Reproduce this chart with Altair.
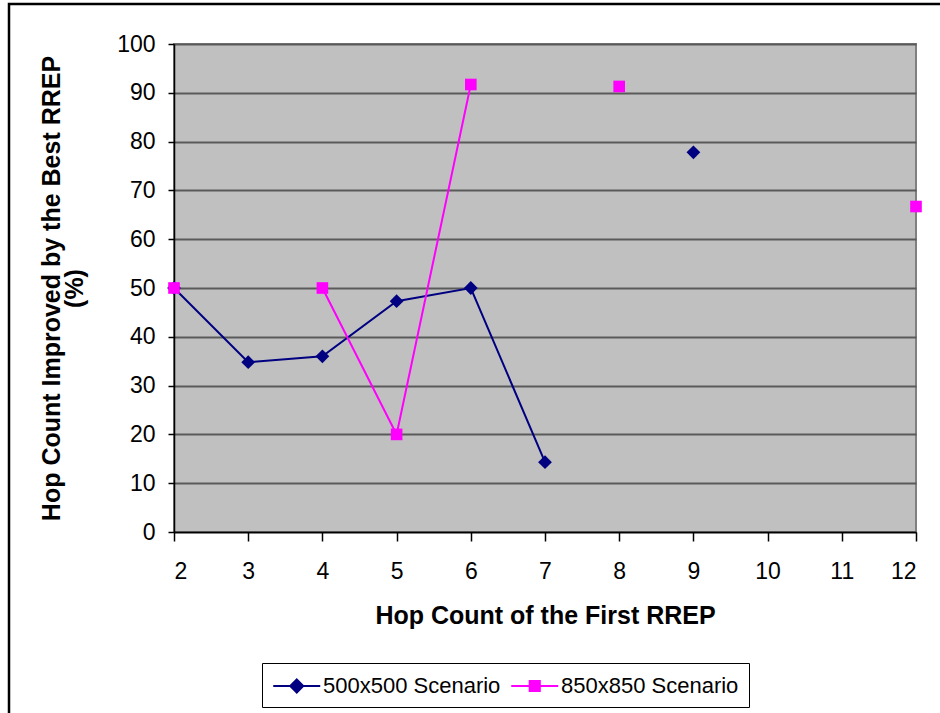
import altair as alt
import pandas as pd

# Hop count of the first RREP (category axis)
hops = [2, 3, 4, 5, 6, 7, 8, 9, 10, 11, 12]

# Percentage of hop count improved by the best RREP (None = no data)
scenario_500 = [50.0, 34.8, 36.0, 47.3, 50.0, 14.3, None, 77.8, None, None, None]
scenario_850 = [50.0, None, 50.0, 20.0, 91.7, None, 91.3, None, None, None, 66.7]

series_names = ["500x500 Scenario", "850x850 Scenario"]
series_colors = ["#000080", "#FF00FF"]
series_shapes = ["diamond", "square"]
series_sizes = [190, 135]

# Legend symbols: a line with the series marker in the middle
legend_paths = [
    "M-1,0L3,0M1,-0.55L1.55,0L1,0.55L0.45,0Z",
    "M-1,0L3,0M0.57,-0.43L1.43,-0.43L1.43,0.43L0.57,0.43Z",
]

rows = []
for name, values in zip(series_names, [scenario_500, scenario_850]):
    seg = 0
    prev_valid = False
    for h, v in zip(hops, values):
        if v is None:
            prev_valid = False
            continue
        if not prev_valid:
            seg += 1
        prev_valid = True
        rows.append({"hop": h, "pct": v, "series": name, "seg": f"{name}-{seg}"})
df = pd.DataFrame(rows)

FONT = "Liberation Sans"

x_enc = alt.X(
    "hop:Q",
    scale=alt.Scale(domain=[2, 12], nice=False, zero=False),
    axis=alt.Axis(
        values=hops,
        title="Hop Count of the First RREP",
        titleFontSize=25,
        titleFontWeight="bold",
        titleBaseline="alphabetic",
        titleY=91,
        labelFontSize=23,
        labelBaseline="alphabetic",
        labelPadding=37,
        tickSize=9,
        grid=False,
        format="d",
    ),
)
y_enc = alt.Y(
    "pct:Q",
    scale=alt.Scale(domain=[0, 100], nice=False),
    axis=alt.Axis(
        values=list(range(0, 101, 10)),
        title=["Hop Count Improved by the Best RREP", "(%)"],
        titleFontSize=25,
        titleFontWeight="bold",
        titleBaseline="alphabetic",
        titleAngle=270,
        titleX=-115,
        titleY=244,
        titleLineHeight=23,
        labelFontSize=23,
        labelPadding=13,
        tickSize=6,
        grid=True,
        gridColor="#5a5a5a",
        gridWidth=2,
    ),
)

layers = []
for name, col in zip(series_names, series_colors):
    sub = alt.Chart(df).transform_filter(alt.datum.series == name)
    layers.append(
        sub.mark_line(strokeWidth=2, color=col).encode(x=x_enc, y=y_enc, detail="seg:N")
    )
for name, col, shp, sz in zip(series_names, series_colors, series_shapes, series_sizes):
    sub = alt.Chart(df).transform_filter(alt.datum.series == name)
    layers.append(
        sub.mark_point(
            filled=True, opacity=1, strokeWidth=0, color=col, shape=shp, size=sz
        ).encode(x=x_enc, y=y_enc)
    )

# Empty layer that only carries the legend
legend_layer = alt.Chart(df).transform_filter("false").mark_point(
    filled=True, strokeWidth=2, opacity=1
).encode(
    x=x_enc,
    y=y_enc,
    fill=alt.Fill(
        "series:N",
        scale=alt.Scale(domain=series_names, range=series_colors),
        legend=alt.Legend(title=None),
    ),
    stroke=alt.Stroke(
        "series:N",
        scale=alt.Scale(domain=series_names, range=series_colors),
        legend=alt.Legend(title=None),
    ),
    shape=alt.Shape(
        "series:N",
        scale=alt.Scale(domain=series_names, range=legend_paths),
        legend=alt.Legend(title=None),
    ),
)
layers.append(legend_layer)

# Outer frame of the figure
frame = alt.Chart(pd.DataFrame({"k": [0]})).mark_rect(
    filled=False, stroke="black", strokeWidth=2.5, clip=False
).encode(
    x=alt.value(-165),
    y=alt.value(-40),
    x2=alt.value(800),
    y2=alt.value(700),
)
layers.append(frame)

chart = (
    alt.layer(*layers)
    .properties(
        width=742,
        height=488,
        padding={"left": 174, "top": 44, "right": 24, "bottom": 181},
        autosize=alt.AutoSizeParams(type="none"),
        background="white",
    )
    .configure(font=FONT)
    .configure_view(fill="#C0C0C0", stroke="#808080", strokeWidth=2)
    .configure_axis(
        domainColor="black",
        domainWidth=1.5,
        tickColor="black",
        tickWidth=1.5,
        labelColor="black",
        titleColor="black",
        labelFont=FONT,
        titleFont=FONT,
    )
    .configure_legend(
        orient="none",
        legendX=88,
        legendY=619,
        direction="horizontal",
        columns=2,
        columnPadding=6,
        padding=10,
        strokeColor="#000000",
        fillColor="white",
        symbolSize=552,
        symbolStrokeWidth=2,
        labelFontSize=22,
        labelFont=FONT,
        labelColor="black",
        labelOffset=25,
        labelBaseline="middle",
        labelLimit=400,
    )
)

chart.save("out.html", embed_options={"renderer": "svg", "actions": False})
